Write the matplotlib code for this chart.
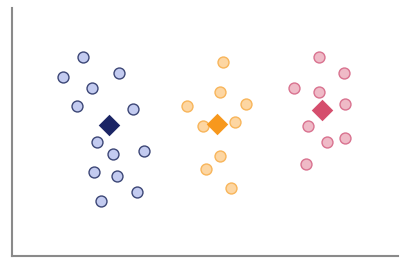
import matplotlib
matplotlib.use("Agg")
import matplotlib.pyplot as plt

# Group A (blue)
a_x = [18.5, 13.2, 27.6, 20.8, 16.8, 31.3, 22.1, 26.2, 34.1, 21.2, 27.1, 32.3, 23.1]
a_y = [80.4, 72.2, 73.7, 67.7, 60.5, 59.2, 46.1, 41.0, 42.5, 34.0, 32.4, 25.9, 22.1]
a_center = (25.2, 52.8)

# Group B (orange)
b_x = [54.7, 53.8, 45.4, 60.6, 49.6, 57.8, 54.0, 50.2, 56.7]
b_y = [78.3, 66.0, 60.5, 61.4, 52.4, 54.0, 40.4, 35.0, 27.3]
b_center = (53.2, 53.1)

# Group C (pink)
c_x = [79.6, 86.0, 73.1, 79.6, 86.2, 76.7, 81.5, 86.2, 76.1]
c_y = [80.2, 73.8, 67.6, 66.1, 61.4, 52.4, 46.1, 47.5, 37.0]
c_center = (80.3, 58.9)

W, H = 409, 268
fig = plt.figure(figsize=(W / 100, H / 100), dpi=100)
ax = fig.add_axes([12 / W, 12 / H, 386 / W, 248 / H])

groups = [
    (a_x, a_y, a_center, "#c3cbf0", "#3c4676", "#1b2565"),
    (b_x, b_y, b_center, "#fdd6a2", "#f8b55a", "#f7981d"),
    (c_x, c_y, c_center, "#efbac7", "#d9728f", "#d54e6d"),
]
for xs, ys, cen, fc, ec, dc in groups:
    ax.scatter(xs, ys, s=62, facecolor=fc, edgecolor=ec, linewidth=1.0, zorder=2)
    ax.scatter([cen[0]], [cen[1]], s=120, marker="D", color=dc, linewidth=0, zorder=3)

ax.set_xlim(0, 100)
ax.set_ylim(0, 100)
ax.set_xticks([])
ax.set_yticks([])
for side in ("top", "right"):
    ax.spines[side].set_visible(False)
for side in ("left", "bottom"):
    ax.spines[side].set_color("#8a8a8a")
    ax.spines[side].set_linewidth(1.5)

fig.savefig("out.png", dpi=100)
